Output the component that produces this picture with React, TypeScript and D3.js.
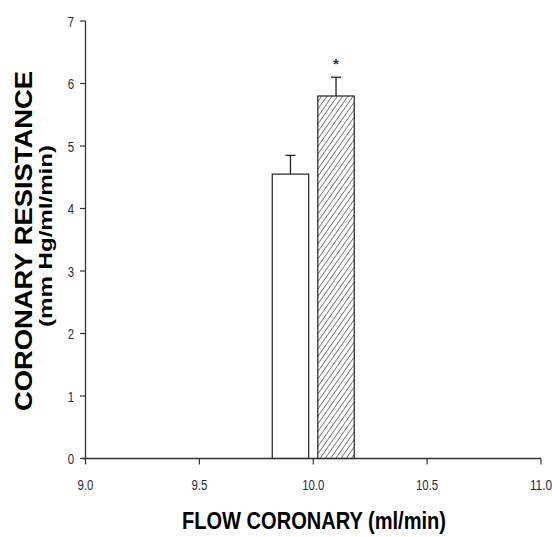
import * as d3 from "d3";

// data
const groups = ["control", "treated"];
const flowX = [9.9, 10.1];
const resistance = [4.55, 5.8];
const sem = [0.3, 0.3];
const significant = [false, true];
const xTicks = [9.0, 9.5, 10.0, 10.5, 11.0];
const yTicks = [0, 1, 2, 3, 4, 5, 6, 7];

const W = 552;
const H = 537;
const BAR_W = 0.16;
const FONT = "'Liberation Sans', Arial, sans-serif";
const TICK_SIZE = 15;
const SQUEEZE = 0.76;

// rough Arial advance widths, used to condense tick labels like Arial Narrow
const labelWidth = (s: string) =>
  s.split("").reduce((w, c) => w + (c === "." ? 0.278 : 0.556), 0) * TICK_SIZE * SQUEEZE;

const App = () => {
  const x = d3.scaleLinear().domain([9, 11]).range([85.5, 541]);
  const y = d3.scaleLinear().domain([0, 7]).range([458.5, 21]);
  const axisColor = "#333";

  return (
    <svg
      width={W}
      height={H}
      style={{ position: "absolute", left: 0, top: 0, background: "#fff" }}
    >
      <defs>
        <pattern
          id="hatch"
          width={4.3}
          height={4.3}
          patternUnits="userSpaceOnUse"
          patternTransform="rotate(35)"
        >
          <rect width={4.3} height={4.3} fill="#fff" />
          <line x1={0} y1={0} x2={0} y2={4.3} stroke="#222" strokeWidth={1.1} />
        </pattern>
      </defs>

      {/* bars */}
      {groups.map((g, i) => (
        <g key={g}>
          <line
            x1={x(flowX[i])}
            x2={x(flowX[i])}
            y1={y(resistance[i])}
            y2={y(resistance[i] + sem[i])}
            stroke="#222"
            strokeWidth={1.3}
          />
          <line
            x1={x(flowX[i]) - 5}
            x2={x(flowX[i]) + 5}
            y1={y(resistance[i] + sem[i])}
            y2={y(resistance[i] + sem[i])}
            stroke="#222"
            strokeWidth={1.3}
          />
          <rect
            x={x(flowX[i] - BAR_W / 2)}
            y={y(resistance[i])}
            width={x(flowX[i] + BAR_W / 2) - x(flowX[i] - BAR_W / 2)}
            height={y(0) - y(resistance[i])}
            fill={i === 0 ? "#fff" : "url(#hatch)"}
            stroke="#222"
            strokeWidth={1.2}
          />
          {significant[i] && (
            <text
              x={x(flowX[i])}
              y={y(resistance[i] + sem[i]) - 8}
              textAnchor="middle"
              fontFamily={FONT}
              fontWeight="bold"
              fontSize={14}
              fill="#334"
            >
              *
            </text>
          )}
        </g>
      ))}

      {/* y axis */}
      <line x1={85.5} x2={85.5} y1={y(7)} y2={y(0)} stroke={axisColor} strokeWidth={1.3} />
      {yTicks.map((t) => (
        <g key={t}>
          <line x1={80} x2={85.5} y1={y(t)} y2={y(t)} stroke={axisColor} strokeWidth={1.2} />
          <text
            x={74}
            y={y(t) + 5.5}
            textAnchor="end"
            fontFamily={FONT}
            fontSize={TICK_SIZE}
            textLength={labelWidth(String(t))}
            lengthAdjust="spacingAndGlyphs"
            fill="#2a2a3a"
          >
            {t}
          </text>
        </g>
      ))}

      {/* x axis */}
      <line x1={82} x2={x(11)} y1={y(0)} y2={y(0)} stroke={axisColor} strokeWidth={1.3} />
      {xTicks.map((t) => (
        <g key={t}>
          <line x1={x(t)} x2={x(t)} y1={y(0)} y2={y(0) + 6} stroke={axisColor} strokeWidth={1.2} />
          <text
            x={x(t)}
            y={y(0) + 31}
            textAnchor="middle"
            fontFamily={FONT}
            fontSize={TICK_SIZE}
            textLength={labelWidth(t.toFixed(1))}
            lengthAdjust="spacingAndGlyphs"
            fill="#2a2a3a"
          >
            {t.toFixed(1)}
          </text>
        </g>
      ))}

      {/* axis titles */}
      <text
        x={314}
        y={529}
        textAnchor="middle"
        fontFamily={FONT}
        fontWeight="bold"
        fontSize={23}
        textLength={264}
        lengthAdjust="spacingAndGlyphs"
        fill="#000"
      >
        FLOW CORONARY (ml/min)
      </text>
      <g transform="translate(32,241) rotate(-90)">
        <text
          x={0}
          y={0}
          textAnchor="middle"
          fontFamily={FONT}
          fontWeight="bold"
          fontSize={23}
          textLength={340}
          lengthAdjust="spacingAndGlyphs"
          fill="#000"
        >
          CORONARY RESISTANCE
        </text>
      </g>
      <g transform="translate(52,236) rotate(-90)">
        <text
          x={0}
          y={0}
          textAnchor="middle"
          fontFamily={FONT}
          fontWeight="bold"
          fontSize={19}
          textLength={182}
          lengthAdjust="spacingAndGlyphs"
          fill="#000"
        >
          (mm Hg/ml/min)
        </text>
      </g>
    </svg>
  );
};

export default App;
